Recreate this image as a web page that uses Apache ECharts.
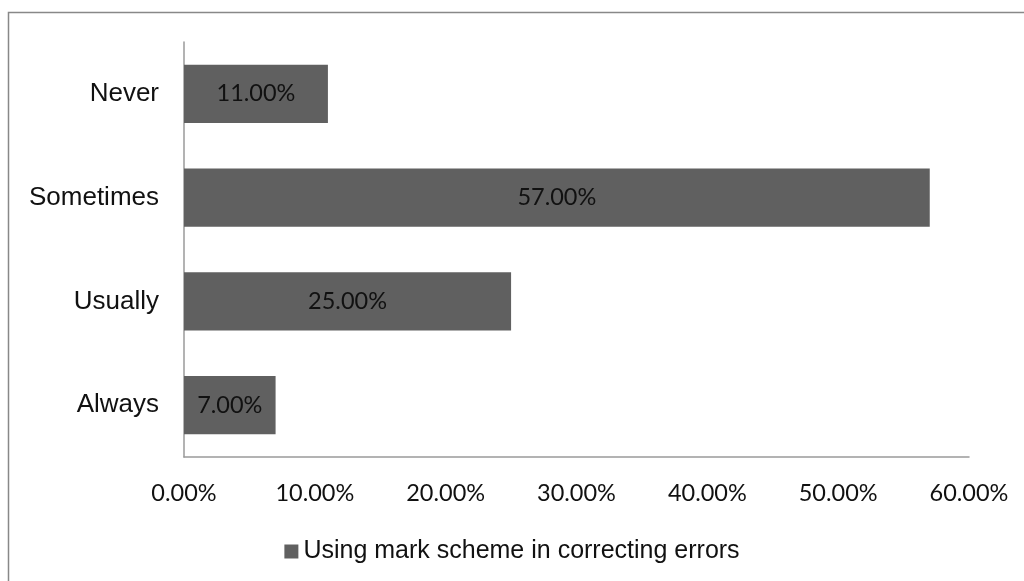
<!DOCTYPE html>
<html>
<head>
<meta charset="utf-8">
<script src="https://cdn.jsdelivr.net/npm/echarts@6/dist/echarts.min.js"></script>
<style>
  html, body { margin: 0; padding: 0; background: #fff; }
  #chart { width: 1024px; height: 581px; }
</style>
</head>
<body>
<div id="chart"></div>
<script>
// Survey responses, bottom to top on the category axis
const categories = ['Always', 'Usually', 'Sometimes', 'Never'];
const shares = [7, 25, 57, 11];
const seriesName = 'Using mark scheme in correcting errors';
const axisMax = 60;
const axisStep = 10;

const chart = echarts.init(document.getElementById('chart'));
const pct = v => v.toFixed(2) + '%';

chart.setOption({
  animation: false,
  backgroundColor: '#ffffff',
  graphic: [{
    type: 'rect',
    shape: { x: 8.5, y: 12.5, width: 1200, height: 800 },
    style: { fill: 'none', stroke: '#888888', lineWidth: 1.5 },
    silent: true
  }],
  grid: { left: 184, right: 55, top: 42, bottom: 124 },
  legend: {
    top: 534,
    left: 'center',
    itemWidth: 14,
    itemHeight: 14,
    itemGap: 8,
    icon: 'rect',
    textStyle: { fontFamily: '"Liberation Sans", Arial, sans-serif', fontSize: 25, color: '#111' },
    data: [seriesName]
  },
  xAxis: {
    type: 'value',
    min: 0,
    max: axisMax,
    interval: axisStep,
    axisLine: { show: true, lineStyle: { color: '#9a9a9a', width: 1.5 } },
    axisTick: { show: false },
    splitLine: { show: false },
    axisLabel: {
      margin: 24,
      fontFamily: 'Lato, "Open Sans", sans-serif',
      fontSize: 23.5,
      color: '#111',
      formatter: v => pct(v)
    }
  },
  yAxis: {
    type: 'category',
    data: categories,
    axisLine: { show: true, lineStyle: { color: '#9a9a9a', width: 1.5 } },
    axisTick: { show: false },
    axisLabel: {
      margin: 25,
      fontFamily: '"Liberation Sans", Arial, sans-serif',
      fontSize: 26,
      color: '#111'
    }
  },
  series: [{
    name: seriesName,
    type: 'bar',
    data: shares,
    barCategoryGap: '44%',
    itemStyle: { color: '#606060' },
    label: {
      show: true,
      position: 'inside',
      fontFamily: 'Lato, "Open Sans", sans-serif',
      fontSize: 23.5,
      color: '#111',
      formatter: p => pct(p.value)
    }
  }]
});
</script>
</body>
</html>
